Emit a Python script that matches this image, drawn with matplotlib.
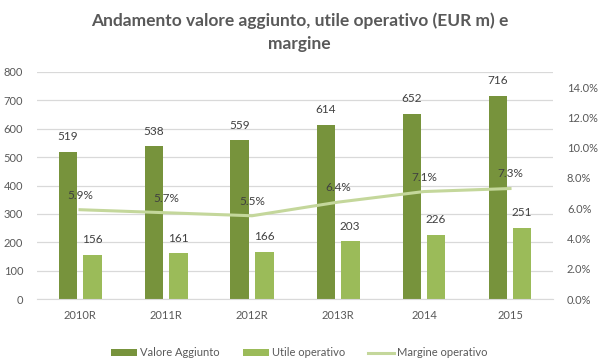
import matplotlib
matplotlib.use("Agg")
import matplotlib.pyplot as plt
import numpy as np
from matplotlib.ticker import FuncFormatter

# data
years = ["2010R", "2011R", "2012R", "2013R", "2014", "2015"]
valore_aggiunto = [519, 538, 559, 614, 652, 716]
utile_operativo = [156, 161, 166, 203, 226, 251]
margine_operativo = [0.059, 0.057, 0.055, 0.064, 0.071, 0.073]

dark_green = "#77933c"
light_green = "#9bbb59"
line_green = "#c4d79b"
text_grey = "#595959"
grid_grey = "#d9d9d9"

plt.rcParams["font.family"] = ["Lato", "DejaVu Sans"]

fig = plt.figure(figsize=(5.99, 3.63), dpi=100)
ax = fig.add_axes([37 / 599, 64 / 363, 516 / 599, 227 / 363])
ax2 = ax.twinx()

x = np.arange(len(years))
w = 0.22
off = 0.14

b1 = ax.bar(x - off, valore_aggiunto, w, color=dark_green, label="Valore Aggiunto", zorder=2)
b2 = ax.bar(x + off, utile_operativo, w, color=light_green, label="Utile operativo", zorder=2)
ax.bar_label(b1, padding=7, fontsize=8.5, color="#404040")
ax.bar_label(b2, padding=7, fontsize=8.5, color="#404040")

ax.set_xlim(-0.5, len(years) - 0.5)
ax.set_ylim(0, 800)
ax.set_yticks(range(0, 801, 100))
ax.yaxis.grid(True, color=grid_grey, linewidth=0.9, zorder=0)
ax.set_axisbelow(True)
ax.set_xticks(x)
ax.set_xticklabels(years)
for s in ["top", "right", "left"]:
    ax.spines[s].set_visible(False)
ax.spines["bottom"].set_color(grid_grey)
ax.tick_params(axis="both", length=0, labelsize=8, colors=text_grey, pad=8)
ax.tick_params(axis="y", pad=10)

(l1,) = ax2.plot(x, margine_operativo, color=line_green, linewidth=2.2, label="Margine operativo", zorder=3)
for xi, m in zip(x, margine_operativo):
    ax2.annotate(f"{m * 100:.1f}%", (xi, m), xytext=(0, 6.5), textcoords="offset points",
                 ha="center", va="bottom", fontsize=8.5, color="#404040")
ax2.set_ylim(0, 0.15)
ax2.set_yticks(np.arange(0, 0.141, 0.02))
ax2.yaxis.set_major_formatter(FuncFormatter(lambda v, p: f"{v * 100:.1f}%"))
for s in ax2.spines.values():
    s.set_visible(False)
ax2.tick_params(axis="y", length=0, labelsize=8, colors=text_grey, pad=10)

fig.suptitle("Andamento valore aggiunto, utile operativo (EUR m) e\nmargine",
             x=0.5, y=0.965, fontsize=12.5, fontweight="bold", color=text_grey,
             linespacing=1.55, multialignment="center")

fig.legend(handles=[b1, b2, l1], loc="lower center", bbox_to_anchor=(0.5, -0.015), ncol=3,
           frameon=False, fontsize=8, labelcolor=text_grey, handlelength=2.3,
           handleheight=0.6, columnspacing=2.1, handletextpad=0.3)

fig.savefig("out.png", dpi=100, facecolor="white")
